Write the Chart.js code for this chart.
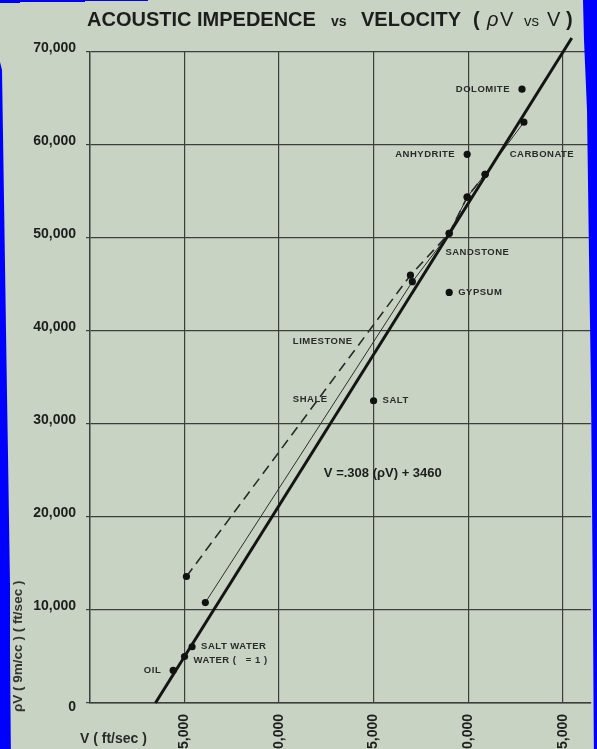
<!DOCTYPE html>
<html>
<head>
<meta charset="utf-8">
<script src="https://cdn.jsdelivr.net/npm/chart.js@4/dist/chart.umd.min.js"></script>
<style>
  html, body { margin: 0; padding: 0; overflow: hidden; width: 597px; height: 749px; background: #c9d3c3; }
  canvas { display: block; }
</style>
</head>
<body>
<canvas id="chart" width="597" height="770"></canvas>
<script>
// Axis ticks
const xTickValues = [0, 5000, 10000, 15000, 20000, 25000];
const yTickValues = [0, 10000, 20000, 30000, 40000, 50000, 60000, 70000];

// Individual materials (V in ft/sec, ρV)
const sampleNames = ['OIL', 'WATER (   = 1 )', 'SALT WATER', 'SALT', 'GYPSUM', 'ANHYDRITE', 'DOLOMITE'];
const sampleV     = [4400, 5000, 5400, 15000, 19000, 19950, 22850];
const samplePV    = [3500, 5000, 6050, 32500, 44150, 59000, 66000];
const sampleSide  = ['left', 'right', 'right', 'right', 'right', 'left', 'left'];

// Dashed trend
const dashedV  = [5100, 16950, 19000, 19950, 20900];
const dashedPV = [13600, 46000, 50500, 54400, 56850];

// Thin trend
const thinV  = [6100, 17050, 19000, 19950, 20900, 22950];
const thinPV = [10800, 45300, 50500, 54400, 56850, 62450];

// Fitted line: V = .308 (ρV) + 3460
const fitSlope = 0.308;
const fitIntercept = 3460;
const fitPV = [0, 71500];

// Rock names written along the trends
const rockNames = ['LIMESTONE', 'SHALE', 'SANDSTONE', 'CARBONATE'];
const rockV     = [10730, 10730, 18800, 22200];
const rockPV    = [38900, 32700, 48450, 59000];

const equationText = 'V =.308 (\u03C1V) + 3460';
const equationV = 12370;
const equationPV = 24730;

const FONT = '"Liberation Sans", Arial, Helvetica, sans-serif';
const INK = '#1d1d1d';
const GRID = '#3e3e3e';
const PAPER = '#c9d3c3';
const EDGE = '#0000ff';

const toXY = (xs, ys) => xs.map((v, i) => ({ x: v, y: ys[i] }));

const dotPoints = [].concat(toXY(sampleV, samplePV), toXY(dashedV, dashedPV), toXY(thinV, thinPV));
const fitPoints = fitPV.map(p => ({ x: fitIntercept + fitSlope * p, y: p }));

const fmt = v => Number(v).toLocaleString('en-US');

const decorations = {
  id: 'decorations',
  beforeDraw(chart) {
    const c = chart.ctx;
    c.save();
    c.fillStyle = PAPER;
    c.fillRect(0, 0, chart.width, chart.height);
    c.restore();
  },
  afterDatasetsDraw(chart) {
    const c = chart.ctx;
    const xs = chart.scales.x, ys = chart.scales.y;
    c.save();
    c.fillStyle = '#2a2a2a';
    c.textBaseline = 'middle';
    c.font = 'bold 9.5px ' + FONT;
    c.letterSpacing = '0.5px';
    sampleNames.forEach((name, i) => {
      const px = xs.getPixelForValue(sampleV[i]);
      const py = ys.getPixelForValue(samplePV[i]);
      const dy = i === 1 ? 4 : 0;
      if (sampleSide[i] === 'left') {
        c.textAlign = 'right';
        c.fillText(name, px - 12, py + dy);
      } else {
        c.textAlign = 'left';
        c.fillText(name, px + 9, py + dy);
      }
    });
    rockNames.forEach((name, i) => {
      c.textAlign = 'left';
      c.fillText(name, xs.getPixelForValue(rockV[i]), ys.getPixelForValue(rockPV[i]));
    });
    c.letterSpacing = '0px';
    c.font = 'bold 13px ' + FONT;
    c.fillStyle = INK;
    c.textAlign = 'left';
    c.fillText(equationText, xs.getPixelForValue(equationV), ys.getPixelForValue(equationPV));
    c.restore();
  },
  afterDraw(chart) {
    const c = chart.ctx;
    c.save();
    // Title
    c.fillStyle = INK;
    c.textBaseline = 'alphabetic';
    c.textAlign = 'left';
    const parts = [
      ['ACOUSTIC IMPEDENCE', 'bold 20px ', 87],
      ['vs', 'bold 14px ', 331],
      ['VELOCITY', 'bold 20px ', 361],
      ['(', 'bold 20px ', 473],
      ['\u03C1', 'italic 20px ', 487],
      ['V', '20px ', 500],
      ['vs', '15px ', 524],
      ['V', '20px ', 547],
      [')', 'bold 20px ', 566]
    ];
    parts.forEach(([t, f, x]) => { c.font = f + FONT; c.fillText(t, x, 26); });

    // Axis titles
    c.fillStyle = '#2a2a2a';
    c.font = 'bold 14px ' + FONT;
    c.fillText('V ( ft/sec )', 80, 743);
    c.save();
    c.translate(18, 712);
    c.rotate(-Math.PI / 2);
    c.font = 'bold 13.5px ' + FONT;
    c.fillStyle = '#333';
    c.textBaseline = 'middle';
    c.fillText('\u03C1V ( 9m/cc ) ( ft/sec )', 0, 0);
    c.restore();

    // Scan edges
    c.fillStyle = EDGE;
    c.beginPath();
    c.moveTo(0, 0); c.lineTo(148, 0); c.lineTo(148, 1); c.lineTo(85, 1); c.lineTo(85, 2);
    c.lineTo(20, 2); c.lineTo(20, 3); c.lineTo(0, 3); c.closePath(); c.fill();
    c.beginPath();
    c.moveTo(0, 62); c.lineTo(2, 70); c.lineTo(3, 135); c.lineTo(4, 200); c.lineTo(5, 265);
    c.lineTo(6, 330); c.lineTo(7, 395); c.lineTo(8, 455); c.lineTo(9, 520); c.lineTo(10, 585);
    c.lineTo(10, 650); c.lineTo(11, 770); c.lineTo(0, 770); c.closePath(); c.fill();
    c.beginPath();
    c.moveTo(583, 0); c.lineTo(597, 0); c.lineTo(597, 770); c.lineTo(594, 770);
    c.lineTo(593, 620); c.lineTo(592, 500); c.lineTo(591, 390); c.lineTo(589, 255);
    c.lineTo(587, 110); c.lineTo(584, 40); c.closePath(); c.fill();
    c.restore();
  }
};

Chart.defaults.font.family = FONT;

new Chart(document.getElementById('chart'), {
  type: 'scatter',
  data: {
    datasets: [
      {
        label: 'materials',
        data: dotPoints,
        pointRadius: 3.6,
        pointBackgroundColor: '#111',
        pointBorderWidth: 0,
        showLine: false
      },
      {
        label: 'fit',
        data: fitPoints,
        showLine: true,
        borderColor: '#141414',
        borderWidth: 3,
        pointRadius: 0,
        clip: false
      },
      {
        label: 'thin',
        data: toXY(thinV, thinPV),
        showLine: true,
        borderColor: '#2e2e2e',
        borderWidth: 1,
        pointRadius: 0
      },
      {
        label: 'dashed',
        data: toXY(dashedV, dashedPV),
        showLine: true,
        borderColor: '#2a2a2a',
        borderWidth: 1.6,
        borderDash: [10, 6],
        pointRadius: 0
      }
    ]
  },
  options: {
    responsive: false,
    animation: false,
    events: [],
    layout: { padding: { top: 52, right: 6, left: 0, bottom: 0 } },
    plugins: { legend: { display: false }, tooltip: { enabled: false }, title: { display: false } },
    scales: {
      x: {
        type: 'linear',
        min: 0,
        max: 26500,
        afterBuildTicks: s => { s.ticks = xTickValues.map(v => ({ value: v })); },
        afterFit: s => { s.height = 770 - 703; },
        ticks: {
          minRotation: 90,
          maxRotation: 90,
          autoSkip: false,
          padding: 11,
          color: INK,
          font: { size: 14, weight: 'bold' },
          callback: v => (v === 0 ? '' : fmt(v))
        },
        grid: { color: GRID, lineWidth: 1.2, drawTicks: false },
        border: { color: GRID, width: 1.4 }
      },
      y: {
        type: 'linear',
        min: 0,
        max: 70000,
        afterBuildTicks: s => { s.ticks = yTickValues.map(v => ({ value: v })); },
        afterFit: s => { s.width = 90; },
        ticks: {
          autoSkip: false,
          padding: 10,
          labelOffset: -4,
          color: INK,
          font: { size: 14, weight: 'bold' },
          callback: v => (v === 0 ? ['', '0'] : fmt(v))
        },
        grid: { color: GRID, lineWidth: 1.2, tickLength: 4 },
        border: { color: GRID, width: 1.4 }
      }
    }
  },
  plugins: [decorations]
});
</script>
</body>
</html>
